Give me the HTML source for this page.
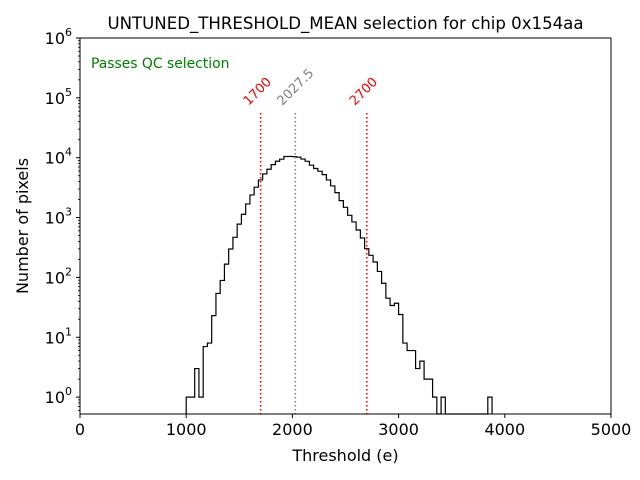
<!DOCTYPE html>
<html><head><meta charset="utf-8"><style>body{margin:0;background:#fff}svg{display:block;font-family:"DejaVu Sans","Liberation Sans",sans-serif}</style></head>
<body>
<svg id="chart" width="640" height="480"></svg>
<script>
const binStart = 1000;
const binWidth = 40;
const counts = [1,1,3,1,7,8,23,54,89,167,298,468,776,1135,1690,2390,3215,4250,5360,6410,7670,8720,9440,10470,10500,10400,10200,9500,8700,7500,6600,5950,5220,4250,3375,2610,1920,1485,1090,845,620,456,302,234,181,126,80,45,34,37,24,8,6,6,3,4,2,2,1,0,1,0,0,0,0,0,0,0,0,0,0,1];
const xTicks = [0,1000,2000,3000,4000,5000];
const yExps = [0,1,2,3,4,5,6];
const cuts = [1700,2700];
const meanVal = 2027.5;
const NS='http://www.w3.org/2000/svg';
const svg=document.getElementById('chart');
const L=80,R=611,T=38,B=414;
const xs=v=>L+(v/5000)*(R-L);
const ymin=-0.2818,ymax=6;
const ys=v=>B-(Math.log10(v)-ymin)/(ymax-ymin)*(B-T);
function el(tag,attrs,name,inter){const e=document.createElementNS(NS,tag);for(const k in attrs)e.setAttribute(k,attrs[k]);


svg.appendChild(e);return e;}
function txt(s,attrs,name){const e=el('text',attrs,name,false);e.textContent=s;return e;}
let d='M'+xs(binStart)+','+B;
counts.forEach((c,i)=>{const y=c>0?ys(c):B;d+=' L'+xs(binStart+i*binWidth)+','+y+' L'+xs(binStart+(i+1)*binWidth)+','+y;});
d+=' L'+xs(binStart+counts.length*binWidth)+','+B;
el('path',{d:d,fill:'none',stroke:'#000','stroke-width':1.2},'histogram-outline',false);
cuts.forEach((c,i)=>{el('line',{x1:xs(c),x2:xs(c),y1:113,y2:B,stroke:'#f00','stroke-width':1.5,'stroke-dasharray':'1.5,2.5'},'cut-line-'+c,false);
txt(String(c),{x:xs(c)-12,y:106,fill:'#f00','font-size':13,transform:'rotate(-45 '+(xs(c)-12)+' 106)'},'cut-label-'+c);});
el('line',{x1:xs(meanVal),x2:xs(meanVal),y1:113,y2:B,stroke:'#808080','stroke-width':1.5,'stroke-dasharray':'1.5,2.5'},'mean-line',false);
txt(String(meanVal),{x:xs(meanVal)-13,y:106,fill:'#808080','font-size':13,transform:'rotate(-45 '+(xs(meanVal)-13)+' 106)'},'mean-label');
el('rect',{x:L,y:T,width:R-L,height:B-T,fill:'none',stroke:'#000','stroke-width':1},'plot-frame',false);
xTicks.forEach(t=>{el('line',{x1:xs(t),x2:xs(t),y1:B,y2:B+4,stroke:'#000'},'x-tick',false);
txt(String(t),{x:xs(t),y:B+21,'text-anchor':'middle','font-size':16},'x-tick-label');});
yExps.forEach(e=>{const y=ys(Math.pow(10,e));el('line',{x1:L-4,x2:L,y1:y,y2:y,stroke:'#000'},'y-tick',false);
const t=txt('',{x:L-8,y:y+6,'text-anchor':'end','font-size':16},'y-tick-label');
t.innerHTML='10<tspan dy="-8" font-size="11">'+e+'</tspan>';});
for(let e=-1;e<6;e++)for(let m=2;m<10;m++){const v=m*Math.pow(10,e);if(Math.log10(v)<ymin)continue;const y=ys(v);
el('line',{x1:L-2,x2:L,y1:y,y2:y,stroke:'#000','stroke-width':0.8},'y-minor-tick',false);}
txt('UNTUNED_THRESHOLD_MEAN selection for chip 0x154aa',{x:(L+R)/2,y:29,'text-anchor':'middle','font-size':16.6},'chart-title');
txt('Threshold (e)',{x:(L+R)/2,y:461,'text-anchor':'middle','font-size':16},'x-axis-title');
txt('Number of pixels',{x:28,y:(T+B)/2,'text-anchor':'middle','font-size':16,transform:'rotate(-90 28 '+((T+B)/2)+')'},'y-axis-title');
txt('Passes QC selection',{x:91,y:68,fill:'#008000','font-size':13.9},'qc-status-text');
</script>
</body></html>
